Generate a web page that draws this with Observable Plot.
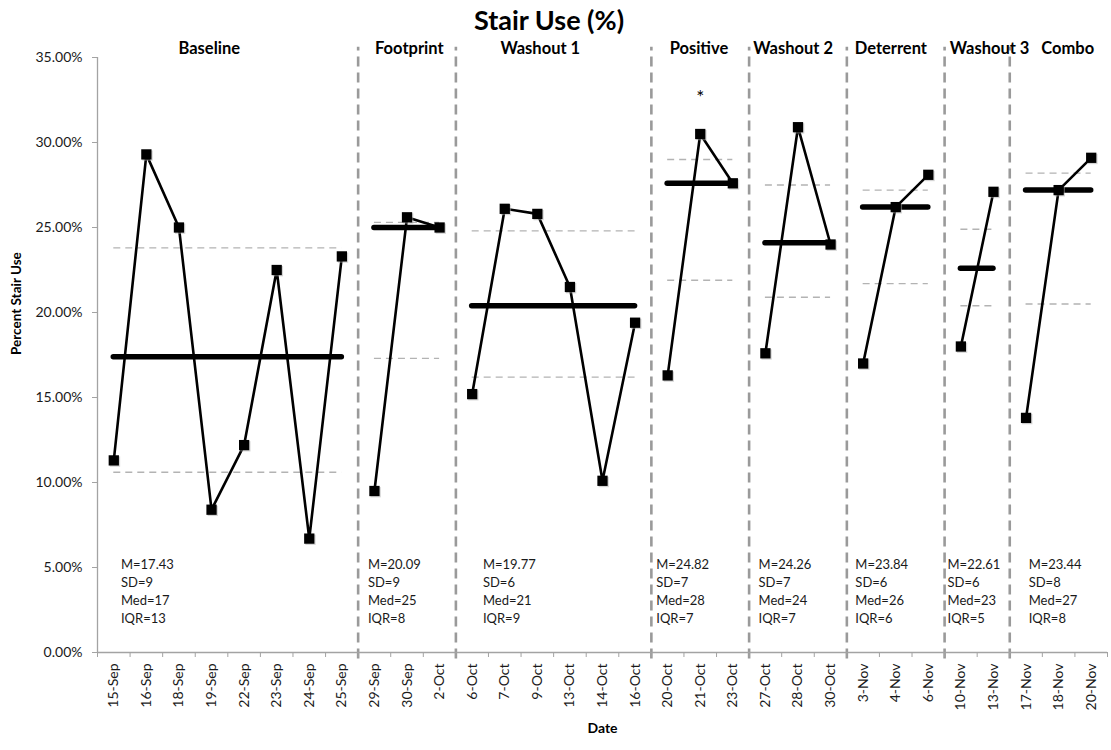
<!DOCTYPE html>
<html><head><meta charset="utf-8">
<script src="https://cdn.jsdelivr.net/npm/d3@7"></script>
<script src="https://cdn.jsdelivr.net/npm/@observablehq/plot@0.6"></script>
<style>
body{margin:0;background:#fff;font-family:Lato,sans-serif}
#title{position:relative;width:1111px;height:40px}
#title span{position:absolute;left:549px;top:5px;transform:translateX(-50%);font:700 27px Lato,sans-serif;line-height:30px;white-space:nowrap;color:#000}
</style></head><body>
<div id="title"><span>Stair Use (%)</span></div>
<div id="chart"></div>
<script>
// ---- data ----
const dates = ["15-Sep","16-Sep","18-Sep","19-Sep","22-Sep","23-Sep","24-Sep","25-Sep",
  "29-Sep","30-Sep","2-Oct",
  "6-Oct","7-Oct","9-Oct","13-Oct","14-Oct","16-Oct",
  "20-Oct","21-Oct","23-Oct",
  "27-Oct","28-Oct","30-Oct",
  "3-Nov","4-Nov","6-Nov",
  "10-Nov","13-Nov",
  "17-Nov","18-Nov","20-Nov"];
const values = [11.3,29.3,25.0,8.4,12.2,22.5,6.7,23.3,
  9.5,25.6,25.0,
  15.2,26.1,25.8,21.5,10.1,19.4,
  16.3,30.5,27.6,
  17.6,30.9,24.0,
  17.0,26.2,28.1,
  18.0,27.1,
  13.8,27.2,29.1];
const phaseNames = ["Baseline","Footprint","Washout 1","Positive","Washout 2","Deterrent","Washout 3","Combo"];
const phaseSizes = [8,3,6,3,3,3,2,3];
const medians = [17.4,25.0,20.4,27.6,24.1,26.2,22.6,27.2];
const upperLines = [23.8,25.3,24.8,29.0,27.5,27.2,24.9,28.2];
const lowerLines = [10.6,17.3,16.2,21.9,20.9,21.7,20.4,20.5];
const statM = ["17.43","20.09","19.77","24.82","24.26","23.84","22.61","23.44"];
const statSD = [9,9,6,7,7,6,6,8];
const statMed = [17,25,21,28,24,26,23,27];
const statIQR = [13,8,9,7,7,6,5,8];
const yTicks = [0,5,10,15,20,25,30,35];
const markedDate = "21-Oct";

// ---- layout (in x-index units) ----
const phaseLabelX = [2.93,9.07,13.09,17.96,20.85,23.85,26.88,29.28];
const statX = [0.22,7.80,11.33,16.65,19.79,22.76,25.59,28.08];

const rows = [];
const phases = [];
let start = 0;
phaseSizes.forEach((n,k)=>{
  for(let j=0;j<n;j++){ const i=start+j; rows.push({i, date:dates[i], value:values[i], phase:phaseNames[k]}); }
  phases.push({name:phaseNames[k], start, end:start+n-1, median:medians[k], upper:upperLines[k], lower:lowerLines[k],
    labelX:phaseLabelX[k], statX:statX[k],
    stats:`M=${statM[k]}\nSD=${statSD[k]}\nMed=${statMed[k]}\nIQR=${statIQR[k]}`});
  start += n;
});
const dividers = phases.slice(1).map(p=>p.start-0.5);
const tickPositions = d3.range(dates.length+1).map(i=>i-0.5);
const grey = "#a3a3a3";

const chart = Plot.plot({
  width:1111, height:710,
  marginTop:17, marginBottom:98, marginLeft:97, marginRight:4,
  x:{type:"linear", domain:[-0.5,dates.length-0.5], axis:null},
  y:{domain:[0,35], axis:null},
  style:{fontFamily:"Lato, sans-serif", color:"#1a1a1a", background:"#fff", overflow:"visible"},
  marks:[
    Plot.ruleX(dividers,{y1:-0.38,y2:35.6,stroke:"#9a9a9a",strokeWidth:2.6,strokeDasharray:"10,6"}),
    Plot.ruleY(phases,{x1:"start",x2:"end",y:"upper",stroke:"#b3b3b3",strokeWidth:1.4,strokeDasharray:"7,5"}),
    Plot.ruleY(phases,{x1:"start",x2:"end",y:"lower",stroke:"#b3b3b3",strokeWidth:1.4,strokeDasharray:"7,5"}),
    Plot.ruleX([-0.5],{stroke:grey,strokeWidth:1.3}),
    Plot.ruleY([0],{stroke:grey,strokeWidth:1.3}),
    Plot.axisY(yTicks,{tickSize:5,tickPadding:10,tickFormat:d=>d.toFixed(2)+"%",stroke:grey,fontSize:14,label:null}),
    Plot.axisX(tickPositions,{tickSize:5,tickFormat:()=>"",stroke:grey,label:null}),
    Plot.axisX(d3.range(dates.length),{tickSize:0,tickPadding:11,tickRotate:-90,tickFormat:i=>dates[i],fontSize:14,label:null}),
    Plot.ruleY(phases,{x1:"start",x2:"end",y:"median",stroke:"#000",strokeWidth:5.5,strokeLinecap:"round"}),
    Plot.lineY(rows,{x:"i",y:"value",z:"phase",stroke:"#000",strokeWidth:2.6}),
    Plot.dot(rows,{x:"i",y:"value",symbol:"square",r:5.8,fill:"#aaa",fillOpacity:0.5,dx:1.2,dy:1.2}),
    Plot.dot(rows,{x:"i",y:"value",symbol:"square",r:5.8,fill:"#000"}),
    Plot.text(phases,{x:"labelX",y:35,text:"name",fontWeight:"bold",fontSize:16.5,lineAnchor:"bottom",dy:-4,fill:"#000"}),
    Plot.text(phases,{x:"statX",y:5.65,text:"stats",textAnchor:"start",lineAnchor:"top",fontSize:13,lineHeight:1.37,fill:"#1a1a1a"}),
    Plot.text([markedDate],{x:d=>dates.indexOf(d),y:32.6,text:()=>"*",fontSize:19,fill:"#000"}),
    Plot.text(["Percent Stair Use"],{frameAnchor:"left",rotate:-90,dx:-81,fontWeight:"bold",fontSize:13.5,fill:"#000"}),
    Plot.text(["Date"],{frameAnchor:"bottom",dy:80,fontWeight:"bold",fontSize:14,fill:"#000"})
  ]
});
document.getElementById("chart").appendChild(chart);
</script>
</body></html>
